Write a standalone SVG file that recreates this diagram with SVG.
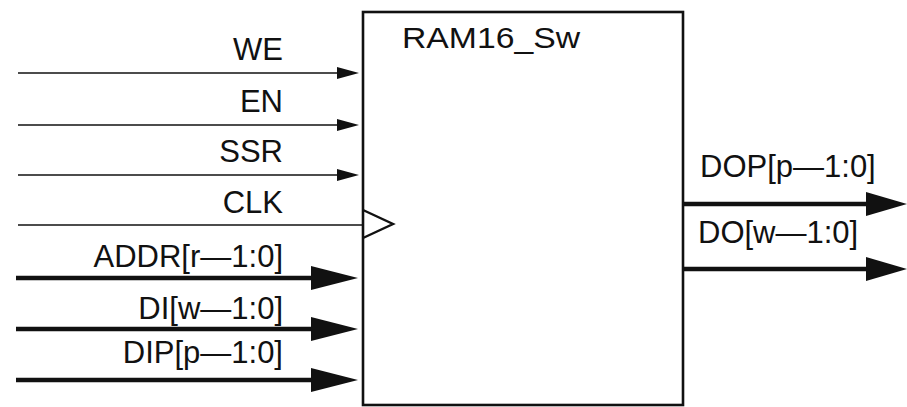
<svg xmlns="http://www.w3.org/2000/svg" width="907" height="407" viewBox="0 0 907 407">
<style>
text{font-family:"Liberation Sans",Arial,sans-serif;font-size:31px;fill:#111}
.r{text-anchor:end}
.thin{stroke:#111;stroke-width:1.6;fill:none}
.thick{stroke:#111;stroke-width:4.5;fill:none}
.box{stroke:#111;stroke-width:2.6;fill:#fff}
.head{fill:#111}
</style>
<rect width="907" height="407" fill="#fff"/>
<g id="connectors">
  <g id="we"><line class="thin" x1="18" y1="73" x2="340" y2="73"/><polygon class="head" points="337,67 359,73 337,79"/></g>
  <g id="en"><line class="thin" x1="18" y1="125" x2="340" y2="125"/><polygon class="head" points="337,119 359,125 337,131"/></g>
  <g id="ssr"><line class="thin" x1="18" y1="175" x2="340" y2="175"/><polygon class="head" points="337,169 359,175 337,181"/></g>
  <g id="clk"><line class="thin" x1="18" y1="225" x2="362" y2="225"/></g>
  <g id="addr"><line class="thick" x1="16" y1="278" x2="315" y2="278"/><polygon class="head" points="311,266 358,278 311,290"/></g>
  <g id="di"><line class="thick" x1="16" y1="329" x2="315" y2="329"/><polygon class="head" points="311,317 358,329 311,341"/></g>
  <g id="dip"><line class="thick" x1="16" y1="380" x2="315" y2="380"/><polygon class="head" points="311,368 358,380 311,392"/></g>
  <g id="dop"><line class="thick" x1="683" y1="204" x2="870" y2="204"/><polygon class="head" points="866,192 907,204 866,216"/></g>
  <g id="do"><line class="thick" x1="683" y1="269" x2="870" y2="269"/><polygon class="head" points="866,257 907,269 866,281"/></g>
</g>
<g id="ram16">
  <rect class="box" x="363" y="12" width="320" height="393"/>
  <polyline class="thin" style="stroke-width:2.4" points="363,210 393,224 363,238"/>
  <text x="402" y="48" style="font-size:29px" textLength="178" lengthAdjust="spacingAndGlyphs">RAM16_Sw</text>
</g>
<g id="labels">
  <text class="r" x="283" y="60">WE</text>
  <text class="r" x="283" y="112">EN</text>
  <text class="r" x="283" y="162">SSR</text>
  <text class="r" x="283" y="213">CLK</text>
  <text class="r" x="283" y="267">ADDR[r—1:0]</text>
  <text class="r" x="283" y="319">DI[w—1:0]</text>
  <text class="r" x="283" y="363">DIP[p—1:0]</text>
  <text x="700" y="177">DOP[p—1:0]</text>
  <text x="698" y="243">DO[w—1:0]</text>
</g>
</svg>
